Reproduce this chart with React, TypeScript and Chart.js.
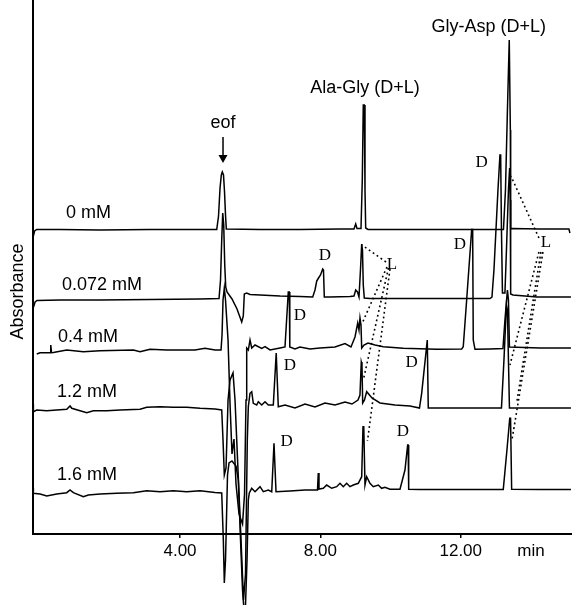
import React, { useEffect, useRef } from "react";
import { Chart, registerables } from "chart.js";

Chart.register(...registerables);

// ---- axis data ----
const timeTicks = [4, 8, 12];
const unitTickValue = 14;
const unitTickLabel = "min";
const xRange = [-0.19, 15.17];
const yRange = [0, 5.34];

// ---- traces: [time (min), absorbance (offset, a.u.)] ----
const trace0mM: [number, number][] = [
  [-0.179, 2.98], [-0.145, 3.03], [-0.083, 3.045], [0.581, 3.045], [1.721, 3.04], [3.145, 3.045],
  [4.57, 3.045], [5.046, 3.045], [5.097, 3.18], [5.14, 3.46], [5.177, 3.59], [5.205, 3.62],
  [5.239, 3.59], [5.268, 3.42], [5.296, 3.19], [5.319, 3.05], [6.279, 3.045], [7.419, 3.045],
  [8.558, 3.05], [8.957, 3.05], [9.006, 3.1], [9.043, 3.055], [9.157, 3.055], [9.194, 3.54],
  [9.222, 4.29], [9.251, 4.29], [9.271, 3.44], [9.291, 3.06], [9.356, 3.045], [10.268, 3.045],
  [11.692, 3.045], [13.217, 3.045], [13.274, 3.44], [13.33, 4.24], [13.382, 4.94], [13.402, 4.94],
  [13.413, 4.04], [13.422, 3.05], [13.459, 3.055], [14.256, 3.05], [15.082, 3.05], [15.111, 3.01],
];

const trace0072mM: [number, number][] = [
  [-0.174, 2.27], [-0.131, 2.32], [-0.074, 2.335], [0.581, 2.34], [1.721, 2.34], [3.145, 2.345],
  [4.57, 2.35], [5.111, 2.355], [5.154, 2.54], [5.188, 2.94], [5.217, 3.21], [5.245, 3.09],
  [5.274, 2.69], [5.302, 2.47], [5.339, 2.42], [5.481, 2.35], [5.624, 2.25], [5.758, 2.12],
  [5.803, 2.18], [5.832, 2.4], [5.9, 2.41], [5.994, 2.395], [6.279, 2.39], [6.849, 2.38],
  [7.419, 2.375], [7.781, 2.37], [7.846, 2.44], [7.895, 2.53], [7.946, 2.56], [8.003, 2.59],
  [8.066, 2.65], [8.088, 2.64], [8.111, 2.37], [8.274, 2.37], [8.843, 2.375], [8.957, 2.38],
  [9.006, 2.44], [9.057, 2.42], [9.1, 2.37], [9.142, 2.64], [9.177, 2.9], [9.199, 2.84],
  [9.222, 2.49], [9.251, 2.36], [9.413, 2.355], [10.268, 2.355], [11.692, 2.355], [12.832, 2.355],
  [12.889, 2.37], [12.946, 2.64], [13.003, 3.04], [13.06, 3.44], [13.117, 3.79], [13.137, 3.79],
  [13.16, 3.04], [13.188, 2.41], [13.259, 2.41], [13.302, 2.84], [13.359, 3.44], [13.393, 3.66],
  [13.41, 3.34], [13.422, 2.4], [13.487, 2.39], [14.171, 2.37], [15.14, 2.37],
];

const trace04mM: [number, number][] = [
  [-0.083, 1.8], [0.011, 1.813], [0.296, 1.813], [0.316, 1.89], [0.339, 1.813], [0.39, 1.815],
  [0.772, 1.84], [1.245, 1.823], [1.721, 1.833], [2.67, 1.84], [2.86, 1.823], [3.145, 1.847],
  [3.621, 1.84], [4.427, 1.84], [4.712, 1.857], [4.997, 1.84], [5.168, 1.84], [5.197, 1.99],
  [5.225, 2.34], [5.262, 2.46], [5.296, 2.34], [5.368, 1.94], [5.425, 1.3], [5.481, 0.8],
  [5.538, 0.95], [5.595, 0.5], [5.681, 0.2], [5.781, 0.1], [5.838, 0.4], [5.88, 1.34], [5.9, 1.86], [5.946, 1.84],
  [5.994, 1.94], [6.043, 1.86], [6.137, 1.89], [6.328, 1.857], [6.422, 1.873], [6.564, 1.84],
  [6.849, 1.86], [6.991, 1.87], [7.085, 2.42], [7.114, 2.42], [7.128, 1.87], [7.276, 1.85],
  [7.419, 1.87], [7.704, 1.85], [7.989, 1.86], [8.416, 1.87], [8.701, 1.905], [8.872, 1.87],
  [8.986, 1.97], [9.063, 2.11], [9.1, 2.04], [9.128, 2.16], [9.157, 2.09], [9.177, 1.86],
  [9.242, 1.89], [9.356, 1.91], [9.556, 1.89], [9.792, 1.873], [10.362, 1.857], [11.313, 1.847],
  [12.026, 1.85], [12.071, 1.873], [12.168, 2.34], [12.311, 3.045], [12.339, 3.045], [12.356, 1.94],
  [12.405, 1.847], [12.832, 1.85], [13.202, 1.855], [13.259, 2.14], [13.33, 2.44], [13.359, 2.34],
  [13.387, 1.87], [14.256, 1.86], [15.14, 1.86],
];

const trace12mM: [number, number][] = [
  [-0.179, 1.3], [-0.179, 1.223], [-0.083, 1.24], [0.202, 1.233], [0.487, 1.24], [0.772, 1.247],
  [0.866, 1.28], [0.915, 1.257], [1.151, 1.233], [1.342, 1.213], [1.53, 1.233], [1.912, 1.233],
  [2.291, 1.24], [2.86, 1.247], [3.051, 1.267], [3.43, 1.273], [3.809, 1.267], [4.191, 1.267],
  [4.57, 1.257], [4.997, 1.25], [5.188, 1.24], [5.225, 0.94], [5.262, 0.59], [5.311, 0.66],
  [5.368, 1.34], [5.425, 1.54], [5.51, 1.61], [5.567, 1.34], [5.652, 0.64], [5.738, -0.06],
  [5.809, -0.66], [5.866, -0.4], [5.917, 0.94], [5.946, 1.273], [5.994, 1.407], [6.043, 1.423],
  [6.088, 1.307], [6.185, 1.29], [6.231, 1.323], [6.328, 1.29], [6.422, 1.323], [6.516, 1.29],
  [6.658, 1.29], [6.741, 1.81], [6.763, 1.81], [6.8, 1.273], [6.991, 1.29], [7.276, 1.26],
  [7.561, 1.3], [7.846, 1.27], [8.131, 1.31], [8.416, 1.29], [8.701, 1.32], [8.9, 1.3],
  [9.071, 1.34], [9.128, 1.39], [9.165, 1.72], [9.185, 1.69], [9.205, 1.31], [9.256, 1.34],
  [9.319, 1.423], [9.47, 1.36], [9.698, 1.31], [10.125, 1.29], [10.553, 1.28], [10.823, 1.26],
  [10.886, 1.407], [11.046, 1.94], [11.066, 1.94], [11.074, 1.26], [11.407, 1.26], [12.262, 1.26],
  [13.16, 1.26], [13.231, 1.74], [13.302, 2.29], [13.33, 2.24], [13.387, 1.26], [14.256, 1.26],
  [15.14, 1.26],
];

const trace16mM: [number, number][] = [
  [-0.179, 0.46], [-0.179, 0.407], [0.011, 0.4], [0.202, 0.38], [0.487, 0.4], [0.772, 0.413],
  [0.866, 0.44], [0.96, 0.413], [1.245, 0.373], [1.387, 0.39], [1.721, 0.4], [2.197, 0.407],
  [2.67, 0.413], [3.051, 0.433], [3.43, 0.423], [3.809, 0.433], [4.191, 0.423], [4.57, 0.433],
  [4.997, 0.415], [5.188, 0.41], [5.234, -0.06], [5.262, -0.49], [5.296, -0.26], [5.353, 0.59],
  [5.396, 0.71], [5.481, 0.73], [5.595, 0.68], [5.661, 0.54], [5.724, -0.06], [5.781, -0.56],
  [5.823, -0.76], [5.866, -0.71], [5.909, -0.26], [5.946, 0.34], [5.974, 0.41], [6.043, 0.457],
  [6.137, 0.423], [6.279, 0.473], [6.373, 0.423], [6.516, 0.44], [6.613, 0.423], [6.678, 0.907],
  [6.698, 0.907], [6.735, 0.423], [7.134, 0.43], [7.561, 0.44], [7.917, 0.44], [7.94, 0.61],
  [7.96, 0.45], [8.083, 0.457], [8.179, 0.49], [8.322, 0.457], [8.464, 0.473], [8.558, 0.507],
  [8.652, 0.473], [8.749, 0.507], [8.843, 0.473], [8.937, 0.49], [9.08, 0.507], [9.177, 0.573],
  [9.214, 1.073], [9.236, 1.073], [9.271, 0.49], [9.319, 0.573], [9.413, 0.507], [9.507, 0.473],
  [9.65, 0.49], [9.746, 0.457], [9.84, 0.467], [9.983, 0.447], [10.268, 0.447], [10.41, 0.64],
  [10.487, 0.89], [10.501, 0.89], [10.516, 0.447], [10.838, 0.445], [12.262, 0.445], [13.211, 0.445],
  [13.316, 0.84], [13.396, 1.157], [13.419, 1.157], [13.45, 0.447], [14.256, 0.445], [15.14, 0.445],
];

const traces = [trace0mM, trace0072mM, trace04mM, trace12mM, trace16mM];
const concLabels = ["0 mM", "0.072 mM", "0.4 mM", "1.2 mM", "1.6 mM"];
const concLabelX = [0.752, 0.638, 0.524, 0.496, 0.496];
const concLabelY = [3.21, 2.49, 1.97, 1.42, 0.59];

// dotted lines linking L enantiomer peaks: [[t0, a0], [t1, a1]]
const alaGlyLinks: [number, number][][] = [
  [[9.869, 2.72], [9.185, 2.89]],
  [[9.897, 2.67], [9.194, 2.11]],
  [[9.94, 2.66], [9.222, 1.54]],
  [[9.983, 2.65], [9.342, 0.93]],
];
const glyAspLinks: [number, number][][] = [
  [[14.228, 2.96], [13.43, 3.58]],
  [[14.228, 2.82], [13.402, 1.69]],
  [[14.285, 2.82], [13.593, 1.31]],
  [[14.342, 2.82], [13.459, 0.94]],
];

const peakNames = ["Ala-Gly (D+L)", "Gly-Asp (D+L)"];
const peakNameX = [9.271, 12.8];
const peakNameY = [4.455, 5.07];

const dLabelX = [8.131, 7.419, 7.134, 7.04, 12.595, 11.977, 10.601, 10.353];
const dLabelY = [2.78, 2.18, 1.68, 0.923, 3.71, 2.89, 1.71, 1.02];
const lLabelX = [10.04, 14.427];
const lLabelY = [2.69, 2.91];

const eofLabel = "eof";
const eofX = 5.225;
const eofLabelY = 4.11;
const eofArrow = [3.97, 3.71];

const yTitle = "Absorbance";
const yTitleCenter = 2.425;

const SANS = '"Liberation Sans", Arial, Helvetica, sans-serif';
const SERIF = '"Liberation Serif", "Times New Roman", serif';

const annotations = {
  id: "annotations",
  afterDatasetsDraw(chart: any) {
    const { ctx, scales, chartArea } = chart;
    const x = scales.x;
    const y = scales.y;
    ctx.save();
    ctx.fillStyle = "#000";
    ctx.strokeStyle = "#000";
    ctx.textBaseline = "middle";

    ctx.font = `18px ${SANS}`;
    ctx.textAlign = "left";
    concLabels.forEach((s, i) => {
      ctx.fillText(s, x.getPixelForValue(concLabelX[i]), y.getPixelForValue(concLabelY[i]));
    });

    ctx.textAlign = "center";
    peakNames.forEach((s, i) => {
      ctx.fillText(s, x.getPixelForValue(peakNameX[i]), y.getPixelForValue(peakNameY[i]));
    });
    ctx.fillText(eofLabel, x.getPixelForValue(eofX), y.getPixelForValue(eofLabelY));

    // eof arrow
    const ax = x.getPixelForValue(eofX);
    const ay0 = y.getPixelForValue(eofArrow[0]);
    const ay1 = y.getPixelForValue(eofArrow[1]);
    ctx.lineWidth = 1.5;
    ctx.beginPath();
    ctx.moveTo(ax, ay0);
    ctx.lineTo(ax, ay1 - 6);
    ctx.stroke();
    ctx.beginPath();
    ctx.moveTo(ax - 4.5, ay1 - 8);
    ctx.lineTo(ax + 4.5, ay1 - 8);
    ctx.lineTo(ax, ay1);
    ctx.closePath();
    ctx.fill();

    ctx.font = `17px ${SERIF}`;
    dLabelX.forEach((v, i) => {
      ctx.fillText("D", x.getPixelForValue(v), y.getPixelForValue(dLabelY[i]));
    });
    lLabelX.forEach((v, i) => {
      ctx.fillText("L", x.getPixelForValue(v), y.getPixelForValue(lLabelY[i]));
    });

    // y title
    ctx.font = `18px ${SANS}`;
    ctx.translate(chartArea.left - 14.5, y.getPixelForValue(yTitleCenter));
    ctx.rotate(-Math.PI / 2);
    ctx.fillText(yTitle, 0, 0);
    ctx.restore();
  },
};

export default function App() {
  const ref = useRef<HTMLCanvasElement | null>(null);
  useEffect(() => {
    if (!ref.current) return;
    const traceSets = traces.map((tr) => ({
      data: tr.map(([t, a]) => ({ x: t, y: a })),
      borderColor: "#000",
      borderWidth: 1.5,
      pointRadius: 0,
      tension: 0,
      fill: false,
      clip: false as any,
    }));
    const linkSets = [...alaGlyLinks, ...glyAspLinks].map((seg) => ({
      data: seg.map(([t, a]) => ({ x: t, y: a })),
      borderColor: "#000",
      borderWidth: 1.6,
      borderDash: [1.8, 3],
      pointRadius: 0,
      tension: 0,
      fill: false,
      clip: false as any,
    }));
    const chart = new Chart(ref.current, {
      type: "line",
      data: { datasets: [...traceSets, ...linkSets] as any },
      options: {
        animation: false,
        responsive: false,
        maintainAspectRatio: false,
        layout: { padding: 0 },
        plugins: { legend: { display: false }, tooltip: { enabled: false } },
        scales: {
          x: {
            type: "linear",
            min: xRange[0],
            max: xRange[1],
            afterFit: (s: any) => {
              s.height = 71;
            },
            afterBuildTicks: (s: any) => {
              s.ticks = [...timeTicks, unitTickValue].map((v) => ({ value: v }));
            },
            ticks: {
              autoSkip: false,
              maxRotation: 0,
              padding: 3,
              color: "#000",
              font: { family: SANS, size: 17 },
              callback: (v: any) => (v === unitTickValue ? unitTickLabel : Number(v).toFixed(2)),
            },
            grid: {
              drawOnChartArea: false,
              drawTicks: true,
              tickLength: 4,
              lineWidth: 1.5,
              color: (c: any) => (c.tick && c.tick.value === unitTickValue ? "rgba(0,0,0,0)" : "#000"),
            },
            border: { color: "#000", width: 2 },
          },
          y: {
            type: "linear",
            min: yRange[0],
            max: yRange[1],
            afterFit: (s: any) => {
              s.width = 33;
            },
            ticks: { display: false },
            grid: { display: false, drawTicks: false },
            border: { color: "#000", width: 2 },
          },
        },
      },
      plugins: [annotations],
    });
    return () => chart.destroy();
  }, []);
  return (
    <div style={{ position: "fixed", left: 0, top: 0, width: 572, height: 605, background: "#fff" }}>
      <canvas ref={ref} width={572} height={605} style={{ width: 572, height: 605, display: "block" }} />
    </div>
  );
}
